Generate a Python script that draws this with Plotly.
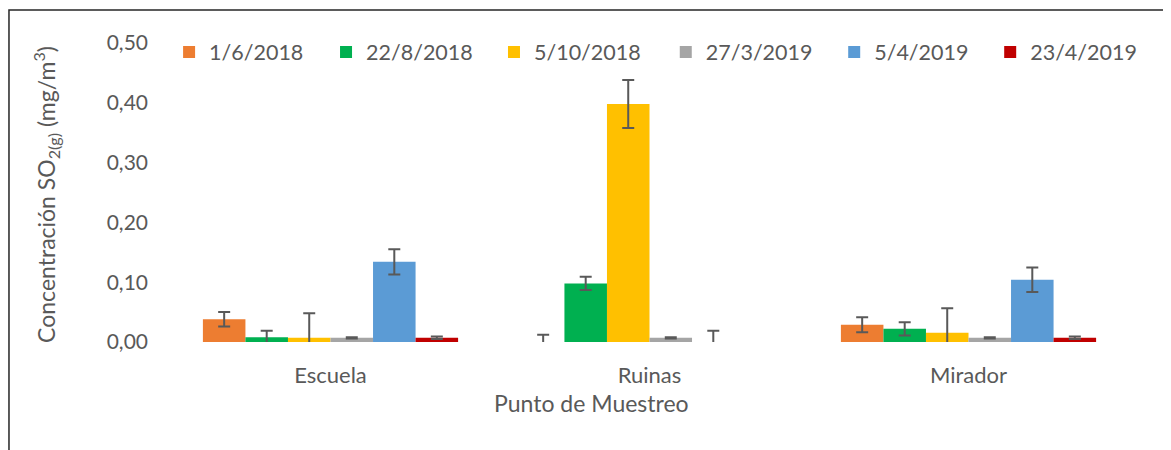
import plotly.graph_objects as go

categories = ["Escuela", "Ruinas", "Mirador"]
series_names = ["1/6/2018", "22/8/2018", "5/10/2018", "27/3/2019", "5/4/2019", "23/4/2019"]
colors = ["#ED7D31", "#00B050", "#FFC000", "#A5A5A5", "#5B9BD5", "#C00000"]

v_1_6_2018 = [0.038, 0.0, 0.029]
v_22_8_2018 = [0.008, 0.098, 0.022]
v_5_10_2018 = [0.007, 0.398, 0.0155]
v_27_3_2019 = [0.007, 0.007, 0.007]
v_5_4_2019 = [0.134, 0.0, 0.104]
v_23_4_2019 = [0.007, None, 0.007]

e_1_6_2018 = [0.012, 0.012, 0.0125]
e_22_8_2018 = [0.011, 0.011, 0.011]
e_5_10_2018 = [0.041, 0.040, 0.041]
e_27_3_2019 = [0.001, 0.001, 0.001]
e_5_4_2019 = [0.021, 0.019, 0.0205]
e_23_4_2019 = [0.002, None, 0.002]

values = [v_1_6_2018, v_22_8_2018, v_5_10_2018, v_27_3_2019, v_5_4_2019, v_23_4_2019]
errors = [e_1_6_2018, e_22_8_2018, e_5_10_2018, e_27_3_2019, e_5_4_2019, e_23_4_2019]

y_ticks = [0.0, 0.1, 0.2, 0.3, 0.4, 0.5]

FONT = "Lato"
TXT = "#595959"

# horizontal positions (paper) of each legend entry, matching the reference layout
legend_x = [-0.002, 0.162, 0.3375, 0.517, 0.693, 0.856]

fig = go.Figure()
legend_layouts = {}
for i, (name, col, v, e) in enumerate(zip(series_names, colors, values, errors)):
    lname = "legend" if i == 0 else f"legend{i + 1}"
    fig.add_trace(go.Bar(
        x=categories, y=v, name=name, legend=lname,
        marker=dict(color=col, line=dict(width=0)),
        error_y=dict(type="data", array=e, visible=True, color="#595959",
                     thickness=2, width=6),
    ))
    legend_layouts[lname] = dict(
        orientation="h", x=legend_x[i], xanchor="left", y=0.97, yanchor="middle",
        font=dict(family=FONT, size=21.5, color=TXT),
        bgcolor="rgba(0,0,0,0)", itemwidth=30,
    )

fig.update_layout(
    width=1163, height=442,
    margin=dict(l=163, r=43, t=35, b=108, autoexpand=False),
    paper_bgcolor="white", plot_bgcolor="white",
    barmode="group", bargap=0.2, bargroupgap=0,
    separators=",.",
    font=dict(family=FONT, color=TXT, size=20),
    showlegend=True,
    xaxis=dict(showgrid=False, showline=False, zeroline=False, ticks="",
               tickfont=dict(family=FONT, size=22, color=TXT), ticklabelstandoff=18),
    yaxis=dict(range=[0, 0.5], tickvals=y_ticks, tickformat=".2f",
               showgrid=False, showline=False, zeroline=False, ticks="",
               tickfont=dict(family=FONT, size=21, color=TXT), ticklabelstandoff=22),
    annotations=[
        dict(text="Concentración SO<sub>2(g)</sub> (mg/m<sup>3</sup>)", xref="paper", yref="paper",
             x=-0.1306, y=0.492, xanchor="center", yanchor="middle", textangle=-90,
             showarrow=False, font=dict(family=FONT, size=23, color=TXT)),
        dict(text="Punto de Muestreo", xref="paper", yref="paper",
             x=0.4394, y=-0.2028, xanchor="center", yanchor="middle",
             showarrow=False, font=dict(family=FONT, size=23, color=TXT)),
    ],
    shapes=[
        dict(type="rect", xref="paper", yref="paper", x0=-0.1693, x1=1.06, y0=-0.45, y1=1.1103,
             line=dict(color="#262626", width=1.5), fillcolor="rgba(0,0,0,0)", layer="below"),
    ],
    **legend_layouts,
)

fig.write_html("out.html")
